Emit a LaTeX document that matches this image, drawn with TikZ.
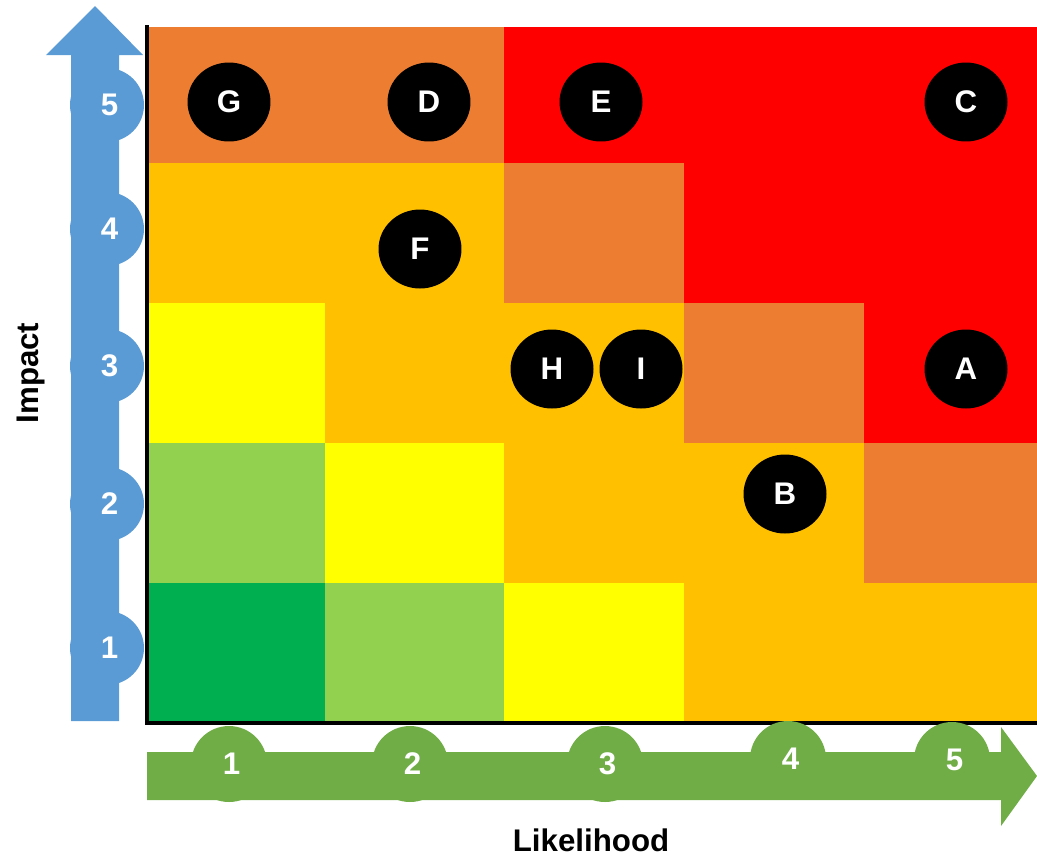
\documentclass[tikz,border=0pt]{standalone}
\usepackage{fontspec}
\setmainfont{Liberation Sans}
\usetikzlibrary{shapes.geometric}
\definecolor{cOrange}{HTML}{ED7D31}
\definecolor{cRed}{HTML}{FF0000}
\definecolor{cAmber}{HTML}{FFC000}
\definecolor{cYellow}{HTML}{FFFF00}
\definecolor{cLgreen}{HTML}{92D050}
\definecolor{cGreen}{HTML}{00B050}
\definecolor{cBlue}{HTML}{5B9BD5}
\definecolor{cArrowGreen}{HTML}{70AD47}
\tikzset{
  lbl/.style={font=\fontsize{17.8}{20}\selectfont\bfseries},
  bluedot/.style={circle, fill=cBlue, minimum size=1.48cm, inner sep=0pt, text=white, lbl},
  greendot/.style={circle, fill=cArrowGreen, minimum size=1.52cm, inner sep=0pt, text=white, lbl},
  risk/.style={ellipse, fill=black, minimum width=1.66cm, minimum height=1.58cm, inner sep=0pt, text=white, lbl},
  axistitle/.style={lbl, text=black}
}
\newcommand{\shiftnum}[1]{\hspace{0.1cm}#1}
\begin{document}
\begin{tikzpicture}[x=0.02cm,y=-0.02cm]
\useasboundingbox (0,0) rectangle (1037,856);
% grid cells (row 5 at top)
\def\xa{149}\def\xb{325}\def\xc{504}\def\xd{684}\def\xe{864}\def\xf{1037}
\def\ya{27}\def\yb{163}\def\yc{303}\def\yd{443}\def\ye{583}\def\yf{722}
% row 5
\fill[cOrange] (\xa,\ya) rectangle (\xc,\yb);
\fill[cRed] (\xc,\ya) rectangle (\xf,\yb);
% row 4
\fill[cAmber] (\xa,\yb) rectangle (\xc,\yc);
\fill[cOrange] (\xc,\yb) rectangle (\xd,\yc);
\fill[cRed] (\xd,\yb) rectangle (\xf,\yc);
% row 3
\fill[cYellow] (\xa,\yc) rectangle (\xb,\yd);
\fill[cAmber] (\xb,\yc) rectangle (\xd,\yd);
\fill[cOrange] (\xd,\yc) rectangle (\xe,\yd);
\fill[cRed] (\xe,\yc) rectangle (\xf,\yd);
% row 2
\fill[cLgreen] (\xa,\yd) rectangle (\xb,\ye);
\fill[cYellow] (\xb,\yd) rectangle (\xc,\ye);
\fill[cAmber] (\xc,\yd) rectangle (\xe,\ye);
\fill[cOrange] (\xe,\yd) rectangle (\xf,\ye);
% row 1
\fill[cGreen] (\xa,\ye) rectangle (\xb,\yf);
\fill[cLgreen] (\xb,\ye) rectangle (\xc,\yf);
\fill[cYellow] (\xc,\ye) rectangle (\xd,\yf);
\fill[cAmber] (\xd,\ye) rectangle (\xf,\yf);
% axes lines
\draw[line width=0.08cm] (147,25) -- (147,723) -- (1037,723);
% blue impact arrow
\fill[cBlue] (71,721) -- (71,55) -- (46,55) -- (95,6) -- (143,55) -- (119,55) -- (119,721) -- cycle;
\node[bluedot] (i5) at (107,105) {\shiftnum{5}};
\node[bluedot] (i4) at (107,229) {\shiftnum{4}};
\node[bluedot] (i3) at (107,366) {\shiftnum{3}};
\node[bluedot] (i2) at (107,504) {\shiftnum{2}};
\node[bluedot] (i1) at (107,648) {\shiftnum{1}};
% green likelihood arrow
\fill[cArrowGreen] (147,752) -- (1001,752) -- (1001,727) -- (1037,776) -- (1001,826) -- (1001,800) -- (147,800) -- cycle;
\node[greendot] (l1) at (229,764) {\shiftnum{1}};
\node[greendot] (l2) at (410,764) {\shiftnum{2}};
\node[greendot] (l3) at (605,764) {\shiftnum{3}};
\node[greendot] (l4) at (788,759) {\shiftnum{4}};
\node[greendot] (l5) at (952,760) {\shiftnum{5}};
% risks
\node[risk] (G) at (229,102) {G};
\node[risk] (D) at (429,102) {D};
\node[risk] (E) at (601,102) {E};
\node[risk] (C) at (966,102) {C};
\node[risk] (F) at (420,249) {F};
\node[risk] (H) at (552,369) {H};
\node[risk] (I) at (641,369) {I};
\node[risk] (A) at (966,369) {A};
\node[risk] (B) at (785,494) {B};
% axis titles
\node[axistitle, rotate=90] (impact) at (31,373) {Impact};
\node[axistitle] (likelihood) at (591,840) {Likelihood};
\end{tikzpicture}
\end{document}
